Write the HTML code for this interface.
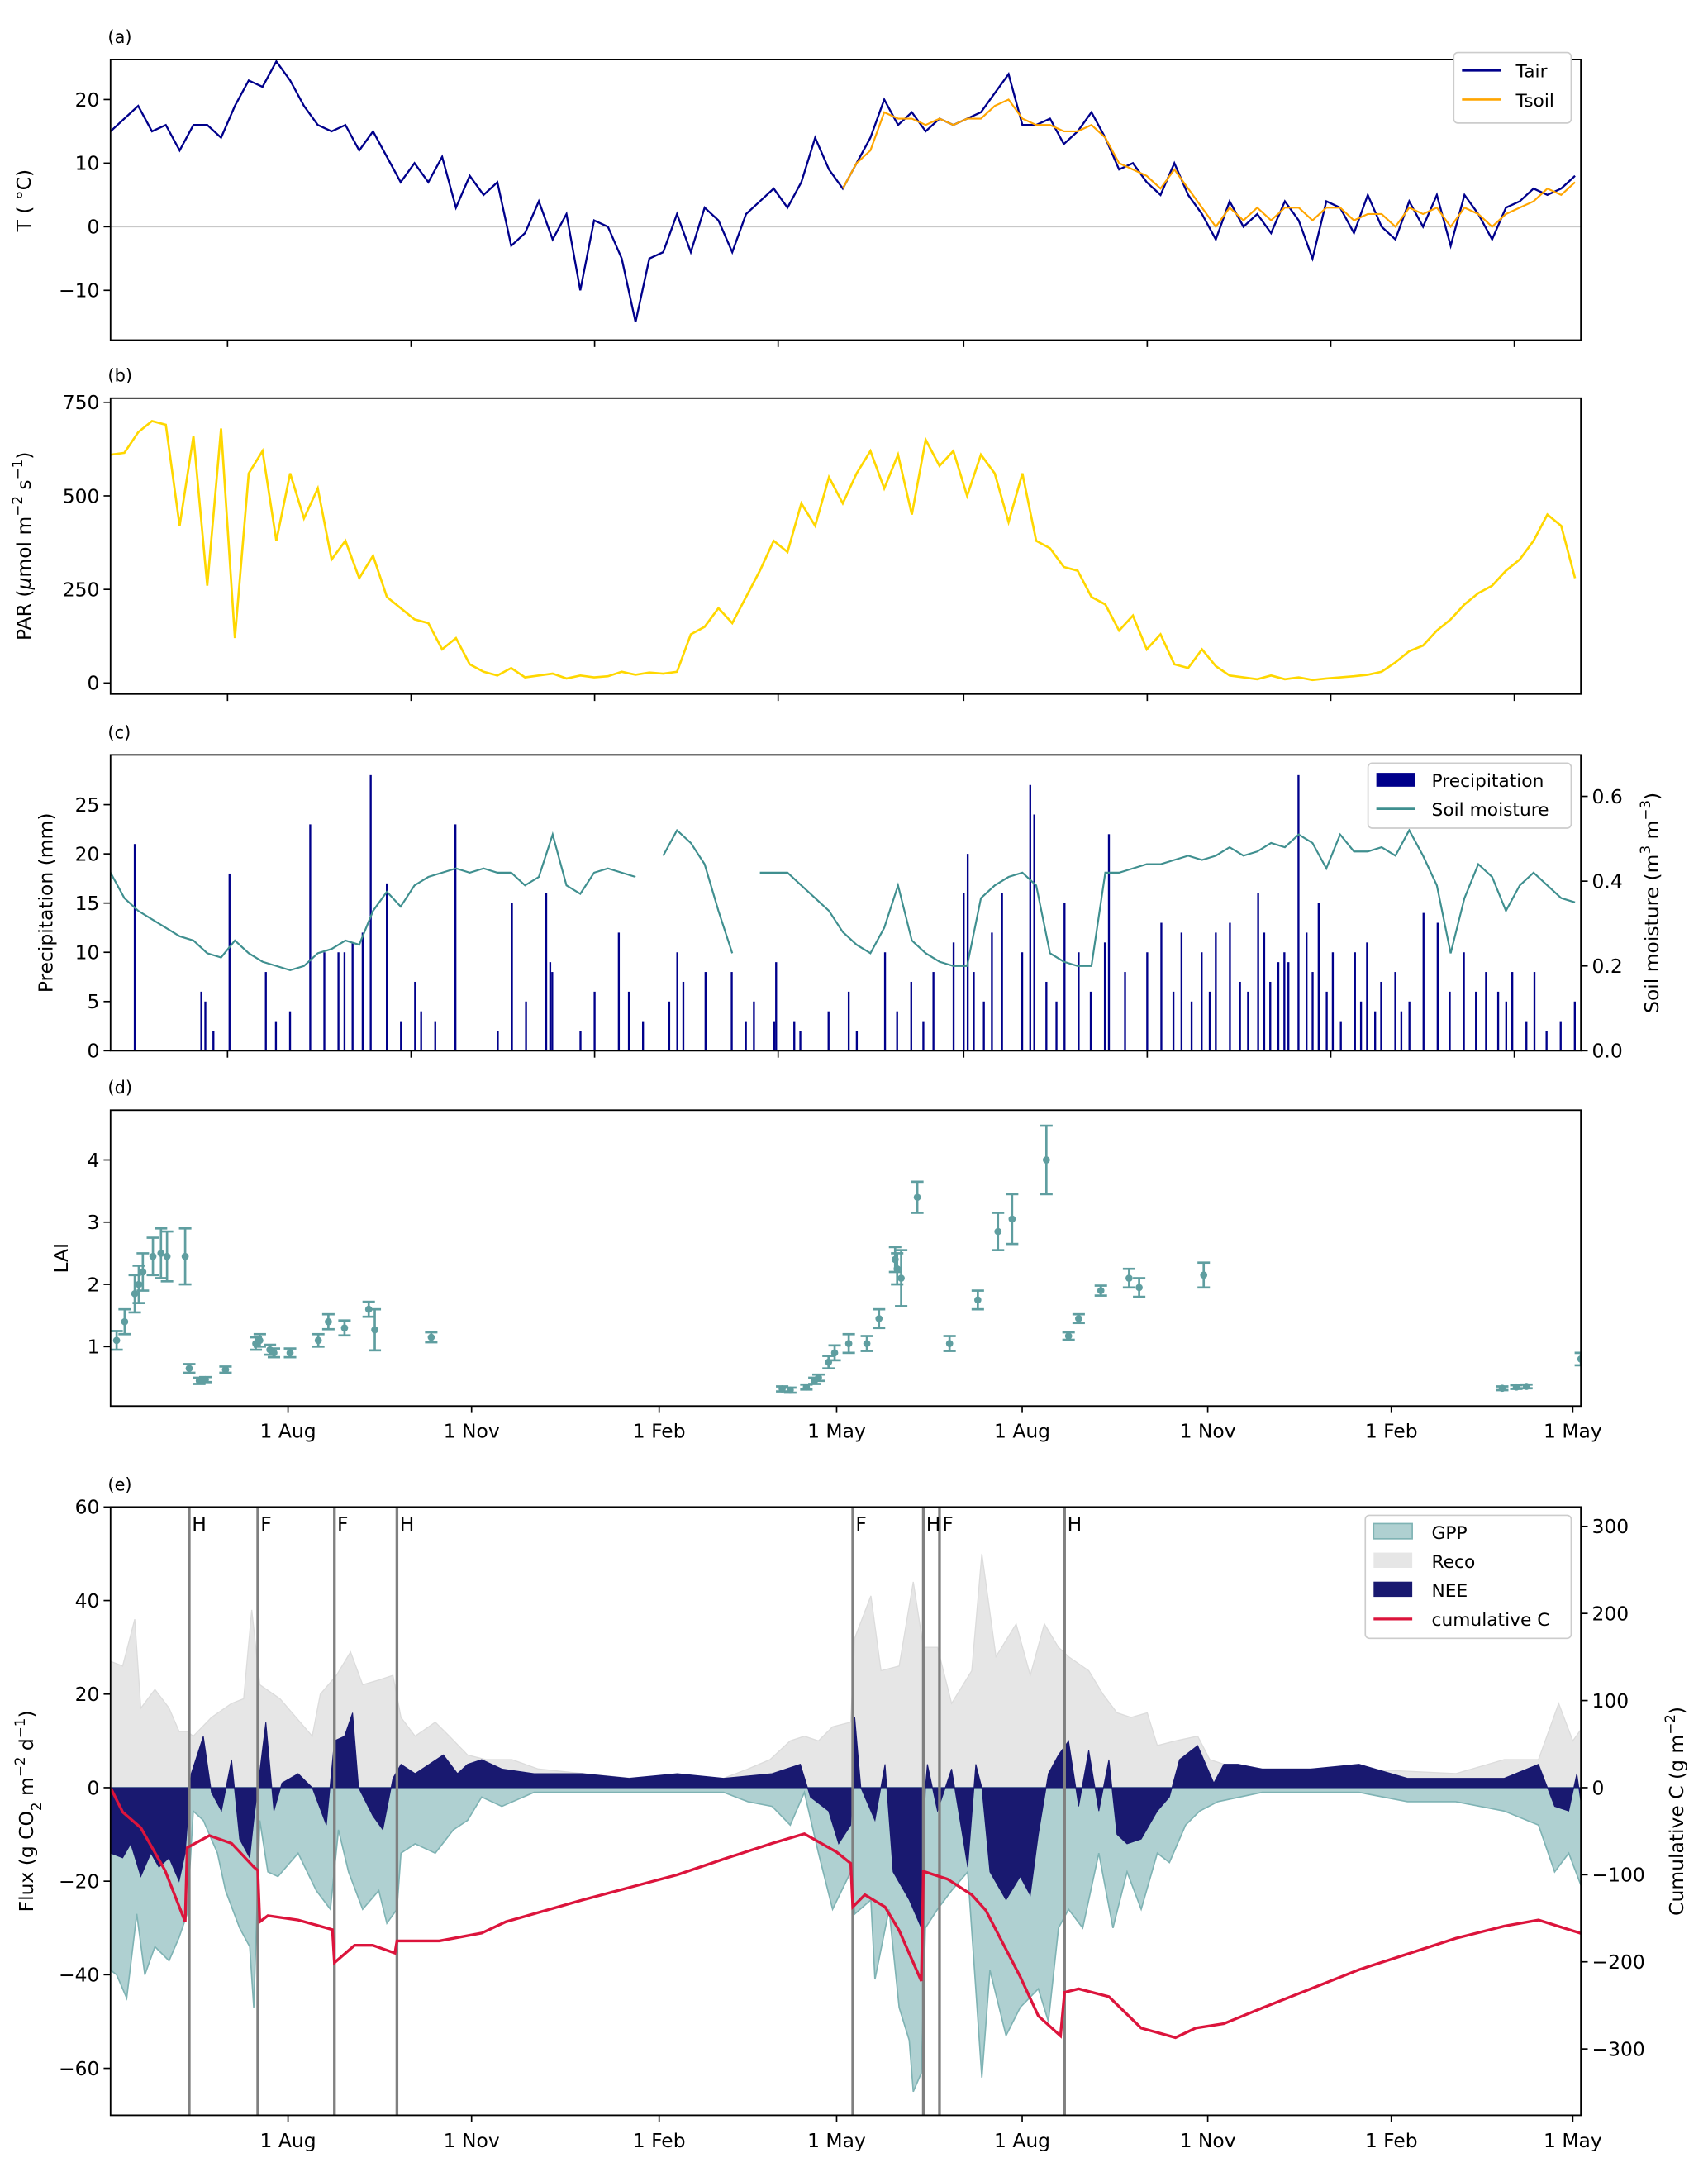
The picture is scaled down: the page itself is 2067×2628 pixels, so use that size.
<!DOCTYPE html>
<html><head><meta charset="utf-8"><title>Climate, vegetation and carbon flux panels</title>
<style>
html,body{margin:0;padding:0;background:#fff;}
svg{display:block;font-family:"DejaVu Sans","Liberation Sans",sans-serif;}
</style></head>
<body>
<svg id="chart" xmlns="http://www.w3.org/2000/svg" width="2067" height="2628" viewBox="0 0 1236 1571" preserveAspectRatio="none">
</svg>
<script>
// ---------- DATA ----------
const sampleStep = 6.85; // days between samples of daily series (panels a-c)
const tairValues = [15,17,19,15,16,12,16,16,14,19,23,22,26,23,19,16,15,16,12,15,11,7,10,7,11,3,8,5,7,-3,-1,4,-2,2,-10,1,0,-5,-15,-5,-4,2,-4,3,1,-4,2,4,6,3,7,14,9,6,10,14,20,16,18,15,17,16,17,18,21,24,16,16,17,13,15,18,14,9,10,7,5,10,5,2,-2,4,0,2,-1,4,1,-5,4,3,-1,5,0,-2,4,0,5,-3,5,2,-2,3,4,6,5,6,8];
const tsoilStart = 53;
const tsoilValues = [6,10,12,18,17,17,16,17,16,17,17,19,20,17,16,16,15,15,16,14,10,9,8,6,9,6,3,0,3,1,3,1,3,3,1,3,3,1,2,2,0,3,2,3,0,3,2,0,2,3,4,6,5,7];
const parValues = [610,615,670,700,690,420,660,260,680,120,560,620,380,560,440,520,330,380,280,340,230,200,170,160,90,120,50,30,20,40,15,20,25,12,20,15,18,30,22,28,25,30,130,150,200,160,230,300,380,350,480,420,550,480,560,620,520,610,450,650,580,620,500,610,560,430,560,380,360,310,300,230,210,140,180,90,130,50,40,90,45,20,15,10,20,10,15,8,12,15,18,22,30,55,85,100,140,170,210,240,260,300,330,380,450,420,280];
const soilMoisture = [0.42,0.36,0.33,0.31,0.29,0.27,0.26,0.23,0.22,0.26,0.23,0.21,0.20,0.19,0.20,0.23,0.24,0.26,0.25,0.33,0.375,0.34,0.39,0.41,0.42,0.43,0.42,0.43,0.42,0.42,0.39,0.41,0.51,0.39,0.37,0.42,0.43,0.42,0.41,null,0.46,0.52,0.49,0.44,0.33,0.23,null,0.42,0.42,0.42,0.39,0.36,0.33,0.28,0.25,0.23,0.29,0.39,0.26,0.23,0.21,0.20,0.20,0.36,0.39,0.41,0.42,0.39,0.23,0.21,0.20,0.20,0.42,0.42,0.43,0.44,0.44,0.45,0.46,0.45,0.46,0.48,0.46,0.47,0.49,0.48,0.51,0.49,0.43,0.51,0.47,0.47,0.48,0.46,0.52,0.46,0.39,0.23,0.36,0.44,0.41,0.33,0.39,0.42,0.39,0.36,0.35];
const precipDays = [12,59,77,99,113,129,137,151,171,199,216,219,240,252,257,281,284,295,308,319,330,339,356,366,384,397,408,418,423,425,437,442,452,456,458,473,480,493,495,514,521,531,541,548,555,564,569,572,579,582,589,593,599,606,617,623,630,637,644,651,658,671,682,688,695,706,726,
 45,47,51,82,89,106,116,120,125,144,154,161,192,206,218,233,264,277,315,329,342,370,390,403,428,433,464,469,486,503,527,536,545,560,575,584,596,603,610,620,627,640,664,677,692,702,712,719];
const precipMm = [21,18,8,23,10,28,17,7,23,15,16,8,6,12,6,10,7,8,8,5,9,3,4,6,10,7,8,11,16,20,12,16,10,27,24,15,10,11,22,10,13,12,10,12,13,6,16,12,9,10,28,12,15,10,10,11,7,8,5,14,13,10,8,6,8,8,5,
 6,5,2,3,4,10,10,11,12,3,4,3,2,5,9,2,3,5,3,3,2,2,4,3,8,5,7,5,6,8,6,5,6,7,7,9,8,6,3,5,4,4,6,6,5,3,2,3];
const laiDays = [3,7,12,14,16,21,25,28,37,39,44,47,57,72,74,79,81,89,103,108,116,128,131,159,333,337,345,349,351,356,359,366,375,381,389,390,392,400,416,430,440,447,464,475,480,491,505,510,542,690,697,702,729];
const laiValues = [1.1,1.4,1.85,2.0,2.2,2.45,2.5,2.45,2.45,0.65,0.45,0.47,0.63,1.05,1.1,0.95,0.9,0.9,1.1,1.4,1.3,1.6,1.27,1.15,0.32,0.3,0.35,0.45,0.5,0.75,0.9,1.05,1.05,1.45,2.4,2.25,2.1,3.4,1.05,1.75,2.85,3.05,4.0,1.17,1.45,1.9,2.1,1.95,2.15,0.33,0.35,0.36,0.8];
const laiErrors = [0.15,0.2,0.3,0.3,0.3,0.3,0.4,0.4,0.45,0.07,0.05,0.04,0.05,0.1,0.1,0.08,0.07,0.07,0.1,0.12,0.12,0.12,0.33,0.08,0.04,0.04,0.04,0.05,0.05,0.1,0.12,0.15,0.12,0.15,0.2,0.25,0.45,0.25,0.12,0.15,0.3,0.4,0.55,0.06,0.07,0.08,0.15,0.15,0.2,0.03,0.03,0.03,0.1];
const recoDays = [0,6,12,15,22,29,34,38,41,50,60,66,70,74,84,92,100,104,112,119,125,133,140,144,151,161,168,177,186,199,212,234,258,281,304,316,327,337,344,351,358,367,369,377,382,391,398,403,410,417,427,432,439,449,456,463,470,475,485,492,499,506,514,519,528,539,545,552,571,619,667,691,708,718,725,730];
const recoValues = [27,26,36,17,21,17,12,12,11,15,18,19,38,22,19,15,11,20,24,29,22,23,24,15,11,14,11,7,6,6,4,3,2,2,2,4,6,10,11,10,13,14,32,41,25,26,44,30,30,18,25,50,28,35,24,35,30,28,25,20,16,15,16,9,10,11,6,5,4,4,3,6,6,18,10,13];
const gppDays = [0,3,8,13,17,22,29,34,38,41,46,53,57,64,69,71,74,78,83,93,102,109,113,118,125,133,137,142,144,151,161,170,177,184,194,210,304,316,328,337,344,351,358,367,369,377,379,386,391,396,398,402,404,410,417,425,429,432,436,444,451,460,465,470,475,482,490,497,504,511,519,525,533,540,549,571,619,643,667,691,708,716,723,730];
const gppValues = [-39,-40,-45,-27,-40,-34,-37,-32,-27,-5,-7,-14,-22,-30,-34,-47,-7,-18,-19,-14,-22,-26,-9,-18,-26,-22,-29,-26,-14,-12,-14,-9,-7,-2,-4,-1,-1,-3,-4,-8,-1,-14,-26,-18,-27,-24,-41,-26,-47,-54,-65,-61,-30,-26,-22,-18,-43,-62,-39,-53,-47,-43,-50,-30,-26,-30,-14,-30,-18,-26,-14,-16,-8,-5,-3,-1,-1,-3,-3,-5,-8,-18,-14,-22];
const neeDays = [0,6,10,15,20,24,29,34,37,40,46,50,55,60,64,69,71,77,81,85,93,100,107,111,116,120,123,130,135,140,144,151,158,165,172,177,184,194,210,234,257,281,304,328,342,347,356,361,367,369,372,379,384,388,396,402,404,405,410,417,425,429,432,436,444,451,456,460,465,470,475,480,485,490,495,499,504,511,519,525,530,539,547,552,559,571,595,619,643,667,691,708,716,723,727,730];
const neeValues = [-14,-15,-12,-19,-14,-17,-15,-20,-14,3,11,-1,-5,6,-11,-15,-7,14,-5,1,3,0,-8,10,11,16,0,-6,-9,2,5,3,5,7,3,5,6,4,3,3,2,3,2,3,5,-2,-5,-12,-8,15,0,-7,5,-18,-24,-30,0,5,-5,4,-17,5,0,-18,-24,-19,-23,-10,3,7,10,-4,8,-5,6,-10,-12,-11,-5,-2,6,9,1,5,5,4,4,5,2,2,2,5,-4,-5,3,-6];
const cumDays = [0,6,15,27,37,38,49,60,71,73,74,78,93,110,111,121,130,141,142,163,184,196,234,281,304,328,344,360,367,368,374,384,391,402,403,415,427,434,451,460,471,473,480,495,511,528,538,552,571,595,619,643,667,691,708,730];
const cumValues = [0,-28,-46,-95,-154,-69,-55,-64,-91,-95,-154,-147,-152,-163,-201,-181,-181,-190,-176,-176,-167,-154,-129,-100,-82,-64,-53,-74,-87,-137,-123,-137,-164,-222,-96,-105,-123,-141,-217,-262,-285,-235,-231,-240,-276,-287,-276,-271,-253,-231,-209,-191,-173,-159,-152,-168];
const mgmtDays = [39,73,111,142,368,403,411,473];
const mgmtLabels = ['H','F','F','H','F','H','F','H'];
const topTickDays = [58,149,240,331,423,514,605,696];
const bottomTickDays = [88,179,272,360,452,544,635,725];
const bottomTickLabels = ['1 Aug','1 Nov','1 Feb','1 May','1 Aug','1 Nov','1 Feb','1 May'];
const tTicks = [20,10,0,-10];
const parTicks = [750,500,250,0];
const precipTicks = [0,5,10,15,20,25];
const smTicks = [0.0,0.2,0.4,0.6];
const laiTicks = [1,2,3,4];
const fluxTicks = [60,40,20,0,-20,-40,-60];
const cumTicks = [300,200,100,0,-100,-200,-300];

// ---------- GEOMETRY ----------
const NS = 'http://www.w3.org/2000/svg';
const svg = document.getElementById('chart');
const L = 80, R = 1144, SPAN = 729;
const P = {
  a:{top:43,bottom:246}, b:{top:288,bottom:502}, c:{top:546,bottom:760},
  d:{top:803,bottom:1017}, e:{top:1090,bottom:1530}
};
function xDay(d){ return L + d*(R-L)/SPAN; }
function lin(v0,p0,v1,p1){ return v => p0 + (v-v0)*(p1-p0)/(v1-v0); }
const yT = lin(20,72,-10,210);
const yPar = lin(0,494,750,291);
const yPr = lin(0,760,25,582);
const ySm = lin(0,760,0.6,576);
const yLai = lin(1,974,4,839);
const yFx = lin(0,1293,60,1090);
const yCum = lin(0,1293,300,1104);

function mk(tag, attrs, parent){
  const e = document.createElementNS(NS, tag);
  for (const k in attrs) e.setAttribute(k, attrs[k]);
  (parent || svg).appendChild(e);
  return e;
}
function txt(s, x, y, size, anchor, parent){
  const t = mk('text', {x:x, y:y, 'font-size':size, 'text-anchor':anchor||'start', fill:'#000'}, parent);
  t.textContent = s;
  return t;
}
function clip(id, p){
  const c = mk('clipPath', {id:id});
  mk('rect', {x:L, y:p.top, width:R-L, height:p.bottom-p.top}, c);
}
const defs = mk('defs', {});
['a','b','c','d','e'].forEach(k => {
  const c = mk('clipPath', {id:'clip-'+k}, defs);
  mk('rect', {x:L, y:P[k].top, width:R-L, height:P[k].bottom-P[k].top}, c);
});

function frame(k, name){
  const r = mk('rect', {x:L, y:P[k].top, width:R-L, height:P[k].bottom-P[k].top, fill:'none', stroke:'#000', 'stroke-width':1.1});
  
  
}
function panelLabel(k, s){
  const t = txt(s, 78, P[k].top-12, 12.5, 'start');
  
  
}
function xTicks(k, days, labels){
  const g = mk('g', {});
  
  
  days.forEach((d,i) => {
    const x = xDay(d);
    mk('line', {x1:x, x2:x, y1:P[k].bottom, y2:P[k].bottom+5, stroke:'#000', 'stroke-width':1}, g);
    if (labels){
      const t = txt(labels[i], x, P[k].bottom+23, 14, 'middle', g);
      
      
    }
  });
}
function yTicks(k, vals, fy, side, fmt){
  const g = mk('g', {});
  
  
  vals.forEach(v => {
    const y = fy(v);
    if (side === 'left'){
      mk('line', {x1:L-5, x2:L, y1:y, y2:y, stroke:'#000', 'stroke-width':1}, g);
      const t = txt(fmt ? fmt(v) : String(v).replace('-','\u2212'), L-8, y+5, 14, 'end', g);
      
      
    } else {
      mk('line', {x1:R, x2:R+5, y1:y, y2:y, stroke:'#000', 'stroke-width':1}, g);
      const t = txt(fmt ? fmt(v) : String(v).replace('-','\u2212'), R+8, y+5, 14, 'start', g);
      
      
    }
  });
}
function yTitle(s, x, y, name){
  const t = mk('text', {x:x, y:y, 'font-size':14, 'text-anchor':'middle', transform:'rotate(-90 '+x+' '+y+')'});
  t.innerHTML = s;
  
  
}
function linePath(days, vals, fy){
  let d = '', pen = false;
  for (let i=0;i<vals.length;i++){
    if (vals[i] === null){ pen = false; continue; }
    d += (pen ? 'L' : 'M') + xDay(days[i]).toFixed(2) + ',' + fy(vals[i]).toFixed(2);
    pen = true;
  }
  return d;
}
function areaPath(days, vals, fy){
  let d = 'M' + xDay(days[0]).toFixed(2) + ',' + fy(0).toFixed(2);
  for (let i=0;i<vals.length;i++) d += 'L' + xDay(days[i]).toFixed(2) + ',' + fy(vals[i]).toFixed(2);
  d += 'L' + xDay(days[days.length-1]).toFixed(2) + ',' + fy(0).toFixed(2) + 'Z';
  return d;
}
const sampleDays = tairValues.map((v,i) => i*sampleStep);

// ---------- PANEL A ----------
panelLabel('a', '(a)');
const zeroA = mk('line', {x1:L, x2:R, y1:yT(0), y2:yT(0), stroke:'#c8c8c8', 'stroke-width':1});


const tairLine = mk('path', {d:linePath(sampleDays, tairValues, yT), fill:'none', stroke:'#00008b', 'stroke-width':1.4, 'clip-path':'url(#clip-a)'});


const tsoilDays = tsoilValues.map((v,i) => (tsoilStart+i)*sampleStep);
const tsoilLine = mk('path', {d:linePath(tsoilDays, tsoilValues, yT), fill:'none', stroke:'#ffa500', 'stroke-width':1.3, 'clip-path':'url(#clip-a)'});


frame('a', 'panel-a-frame');
xTicks('a', topTickDays, null);
yTicks('a', tTicks, yT, 'left');
yTitle('T ( \u00B0C)', 22, 145, 'y-axis-title-temperature');
// legend a
const legA = mk('g', {});


mk('rect', {x:1052, y:38, width:85, height:51, rx:3, fill:'#fff', stroke:'#ccc', 'stroke-width':1}, legA);
mk('line', {x1:1058, x2:1086, y1:51, y2:51, stroke:'#00008b', 'stroke-width':1.6}, legA);
txt('Tair', 1097, 56, 13, 'start', legA);
mk('line', {x1:1058, x2:1086, y1:72, y2:72, stroke:'#ffa500', 'stroke-width':1.6}, legA);
txt('Tsoil', 1097, 77, 13, 'start', legA);

// ---------- PANEL B ----------
panelLabel('b', '(b)');
const parLine = mk('path', {d:linePath(sampleDays, parValues, yPar), fill:'none', stroke:'#ffd700', 'stroke-width':1.6, 'clip-path':'url(#clip-b)'});


frame('b', 'panel-b-frame');
xTicks('b', topTickDays, null);
yTicks('b', parTicks, yPar, 'left');
yTitle('PAR (<tspan font-style="italic">\u03BC</tspan>mol m<tspan baseline-shift="super" font-size="10">\u22122</tspan> s<tspan baseline-shift="super" font-size="10">\u22121</tspan>)', 22, 395, 'y-axis-title-par');

// ---------- PANEL C ----------
panelLabel('c', '(c)');
const prG = mk('g', {'clip-path':'url(#clip-c)'});


precipDays.forEach((d,i) => {
  const x = xDay(d);
  const b = mk('rect', {x:x-0.7, y:yPr(precipMm[i]), width:1.4, height:yPr(0)-yPr(precipMm[i]), fill:'#00008b'}, prG);
  
  
});
const smLine = mk('path', {d:linePath(sampleDays, soilMoisture, ySm), fill:'none', stroke:'#3f8f8f', 'stroke-width':1.3, 'clip-path':'url(#clip-c)'});


frame('c', 'panel-c-frame');
xTicks('c', topTickDays, null);
yTicks('c', precipTicks, yPr, 'left');
yTicks('c', smTicks, ySm, 'right', v => v.toFixed(1));
yTitle('Precipitation (mm)', 38, 653, 'y-axis-title-precipitation');
yTitle('Soil moisture (m<tspan baseline-shift="super" font-size="10">3</tspan> m<tspan baseline-shift="super" font-size="10">\u22123</tspan>)', 1200, 653, 'y-axis-title-soil-moisture');
const legC = mk('g', {});


mk('rect', {x:990, y:552, width:147, height:47, rx:3, fill:'#fff', stroke:'#ccc', 'stroke-width':1}, legC);
mk('rect', {x:996, y:559, width:28, height:10, fill:'#00008b'}, legC);
txt('Precipitation', 1036, 569, 13, 'start', legC);
mk('line', {x1:996, x2:1024, y1:585, y2:585, stroke:'#3f8f8f', 'stroke-width':1.6}, legC);
txt('Soil moisture', 1036, 590, 13, 'start', legC);

// ---------- PANEL D ----------
panelLabel('d', '(d)');
const laiG = mk('g', {'clip-path':'url(#clip-d)'});


laiDays.forEach((d,i) => {
  const x = xDay(d), v = laiValues[i], e = laiErrors[i];
  const g = mk('g', {stroke:'#5f9ea0', 'stroke-width':1.6}, laiG);
  
  
  mk('line', {x1:x, x2:x, y1:yLai(v-e), y2:yLai(v+e)}, g);
  mk('line', {x1:x-4.5, x2:x+4.5, y1:yLai(v-e), y2:yLai(v-e)}, g);
  mk('line', {x1:x-4.5, x2:x+4.5, y1:yLai(v+e), y2:yLai(v+e)}, g);
  mk('circle', {cx:x, cy:yLai(v), r:2.6, fill:'#5f9ea0', stroke:'none'}, g);
});
frame('d', 'panel-d-frame');
xTicks('d', bottomTickDays, bottomTickLabels);
yTicks('d', laiTicks, yLai, 'left');
yTitle('LAI', 49, 910, 'y-axis-title-lai');

// ---------- PANEL E ----------
panelLabel('e', '(e)');
const eG = mk('g', {'clip-path':'url(#clip-e)'});
const recoArea = mk('path', {d:areaPath(recoDays, recoValues, yFx), fill:'#e6e6e6', stroke:'#dcdcdc', 'stroke-width':0.8}, eG);


const gppArea = mk('path', {d:areaPath(gppDays, gppValues, yFx), fill:'#afd0d1', stroke:'#7fb3b4', 'stroke-width':1}, eG);


const neeArea = mk('path', {d:areaPath(neeDays, neeValues, yFx), fill:'#191970', stroke:'#191970', 'stroke-width':0.6}, eG);


mgmtDays.forEach((d,i) => {
  const x = xDay(d);
  const ln = mk('line', {x1:x, x2:x, y1:P.e.top, y2:P.e.bottom, stroke:'#808080', 'stroke-width':2}, eG);
  
  
  const t = txt(mgmtLabels[i], x+2, P.e.top+17, 14, 'start');
  
  
});
const cumLine = mk('path', {d:linePath(cumDays, cumValues, yCum), fill:'none', stroke:'#dc143c', 'stroke-width':2, 'clip-path':'url(#clip-e)'});


frame('e', 'panel-e-frame');
xTicks('e', bottomTickDays, bottomTickLabels);
yTicks('e', fluxTicks, yFx, 'left');
yTicks('e', cumTicks, yCum, 'right');
yTitle('Flux (g CO<tspan baseline-shift="sub" font-size="10">2</tspan> m<tspan baseline-shift="super" font-size="10">\u22122</tspan> d<tspan baseline-shift="super" font-size="10">\u22121</tspan>)', 24, 1310, 'y-axis-title-flux');
yTitle('Cumulative C (g m<tspan baseline-shift="super" font-size="10">\u22122</tspan>)', 1218, 1310, 'y-axis-title-cumulative-c');
const legE = mk('g', {});


mk('rect', {x:988, y:1096, width:149, height:89, rx:3, fill:'#fff', stroke:'#ccc', 'stroke-width':1}, legE);
mk('rect', {x:994, y:1102, width:28, height:11, fill:'#afd0d1', stroke:'#7fb3b4'}, legE);
txt('GPP', 1036, 1113, 13, 'start', legE);
mk('rect', {x:994, y:1123, width:28, height:11, fill:'#e6e6e6'}, legE);
txt('Reco', 1036, 1134, 13, 'start', legE);
mk('rect', {x:994, y:1144, width:28, height:11, fill:'#191970'}, legE);
txt('NEE', 1036, 1155, 13, 'start', legE);
mk('line', {x1:994, x2:1022, y1:1171, y2:1171, stroke:'#dc143c', 'stroke-width':2}, legE);
txt('cumulative C', 1036, 1176, 13, 'start', legE);
</script>
</body></html>
